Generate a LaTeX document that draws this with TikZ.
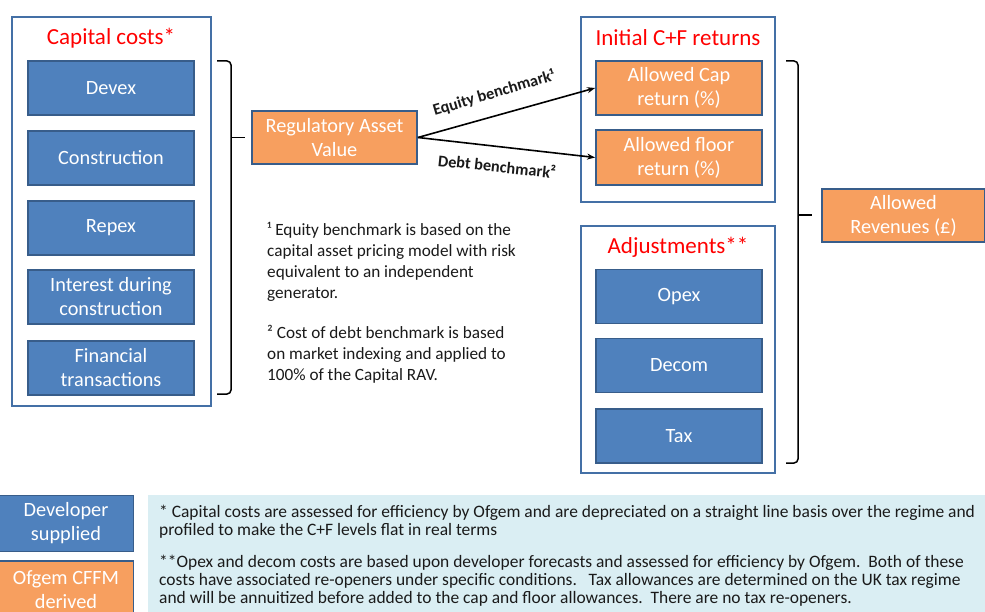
\documentclass[tikz,border=0pt]{standalone}
\usepackage{fontspec}
\setmainfont{Carlito}
\usetikzlibrary{arrows.meta}
\definecolor{boxblue}{HTML}{4F81BD}
\definecolor{edgeblue}{HTML}{385D8A}
\definecolor{frameblue}{HTML}{4470A6}
\definecolor{boxorange}{HTML}{F79F5F}
\definecolor{notecyan}{HTML}{DAEEF3}
\definecolor{titlered}{HTML}{FF0000}
\definecolor{inktext}{HTML}{1A1A1A}

\tikzset{
  frame/.style={draw=frameblue, fill=white, line width=1.6pt},
  bluebox/.style={draw=edgeblue, fill=boxblue, line width=1.8pt, text=white,
    minimum width=166pt, minimum height=54pt, align=center, inner sep=0pt,
    font=\fontsize{20.3}{24}\selectfont},
  orangebox/.style={bluebox, fill=boxorange},
  boxtitle/.style={text=titlered, font=\fontsize{23}{27}\selectfont, inner sep=0pt},
  bracket/.style={draw=black, line width=1.5pt, rounded corners=4pt},
  flow/.style={draw=black, line width=1.6pt, -{Stealth[length=8pt,width=6pt]}},
  flowlabel/.style={font=\bfseries\fontsize{16.3}{19}\selectfont, text=inktext, inner sep=0pt},
  remark/.style={align=left, anchor=north west, inner sep=0pt, text=inktext,
    font=\fontsize{17.2}{21}\selectfont},
  footnote/.style={align=left, anchor=north west, inner sep=0pt, text=inktext,
    font=\fontsize{17.45}{18}\selectfont}
}

\begin{document}
\begin{tikzpicture}[x=1pt,y=-1pt]
\useasboundingbox (0,0) rectangle (985,612);
\clip (0,0) rectangle (985,612);

% capital cost group
\node[frame, minimum width=199pt, minimum height=389pt] (capframe) at (111.5,211.5) {};
\node[boxtitle] (captitle) at (111,38) {Capital costs*};
\node[bluebox] (devex) at (111,88) {Devex};
\node[bluebox] (constr) at (111,158) {Construction};
\node[bluebox] (repex) at (111,228) {Repex};
\node[bluebox] (idc) at (111,297) {Interest during\\construction};
\node[bluebox] (fintx) at (111,368) {Financial\\transactions};

% bracket gathering the capital costs
\coordinate (lbtop) at (217,61);
\coordinate (lbbot) at (217,394);
\coordinate (lbmid) at (231,137.5);
\coordinate (lbtip) at (245,137.5);
\draw[bracket] (lbtop) -- (231,61) -- (231,394) -- (lbbot);
\draw[bracket] (lbmid) -- (lbtip);

% regulatory asset value
\node[orangebox, minimum width=165pt, minimum height=53pt] (rav) at (334.5,137.5) {Regulatory Asset\\Value};

% initial cap and floor returns
\node[frame, minimum width=194pt, minimum height=185pt] (cfframe) at (678,109.5) {};
\node[boxtitle] (cftitle) at (678,38) {Initial C+F returns};
\node[orangebox] (cap) at (679,88) {Allowed Cap\\return (\%)};
\node[orangebox, minimum height=55pt] (floor) at (679,157.5) {Allowed floor\\return (\%)};

% benchmarks
\draw[flow] (rav.east) -- (cap.west);
\draw[flow] (rav.east) -- (floor.west);
\node[flowlabel, rotate=16.5] (eqlabel) at (494,93) {Equity benchmark¹};
\node[flowlabel, rotate=-6] (dblabel) at (497,166) {Debt benchmark²};

% adjustments group
\node[frame, minimum width=194pt, minimum height=247pt] (adjframe) at (678,349.5) {};
\node[boxtitle] (adjtitle) at (678,247) {Adjustments**};
\node[bluebox] (opex) at (679,296.5) {Opex};
\node[bluebox] (decom) at (679,365.5) {Decom};
\node[bluebox] (tax) at (679,436) {Tax};

% bracket gathering returns and adjustments
\coordinate (rbtop) at (786,61);
\coordinate (rbbot) at (786,463);
\coordinate (rbmid) at (798,215);
\coordinate (rbtip) at (812,215);
\draw[bracket] (rbtop) -- (798,61) -- (798,463) -- (rbbot);
\draw[bracket] (rbmid) -- (rbtip);

% allowed revenues
\node[orangebox, minimum width=163pt, minimum height=53pt] (revenue) at (903.5,215.5) {Allowed\\Revenues (£)};

% benchmark remarks
\node[remark] (remark1) at (267,222) {¹ Equity benchmark is based on the\\capital asset pricing model with risk\\equivalent to an independent\\generator.};
\node[remark] (remark2) at (267,325) {² Cost of debt benchmark is based\\on market indexing and applied to\\100\% of the Capital RAV.};

% legend
\node[bluebox, minimum width=135pt, minimum height=56pt] (legdev) at (66,523.5) {Developer\\supplied};
\node[orangebox, minimum width=135pt, minimum height=58pt] (legofg) at (66,590) {Ofgem CFFM\\derived};

% notes panel
\fill[notecyan] (148,495) rectangle (990,616);
\node[footnote] (note1) at (159,505) {* Capital costs are assessed for efficiency by Ofgem and are depreciated on a straight line basis over the regime and\\profiled to make the C+F levels flat in real terms};
\node[footnote] (note2) at (159,555) {**Opex and decom costs are based upon developer forecasts and assessed for efficiency by Ofgem.\ \ Both of these\\costs have associated re-openers under specific conditions.\ \ \ Tax allowances are determined on the UK tax regime\\and will be annuitized before added to the cap and floor allowances.\ \ There are no tax re-openers.};
\end{tikzpicture}
\end{document}
